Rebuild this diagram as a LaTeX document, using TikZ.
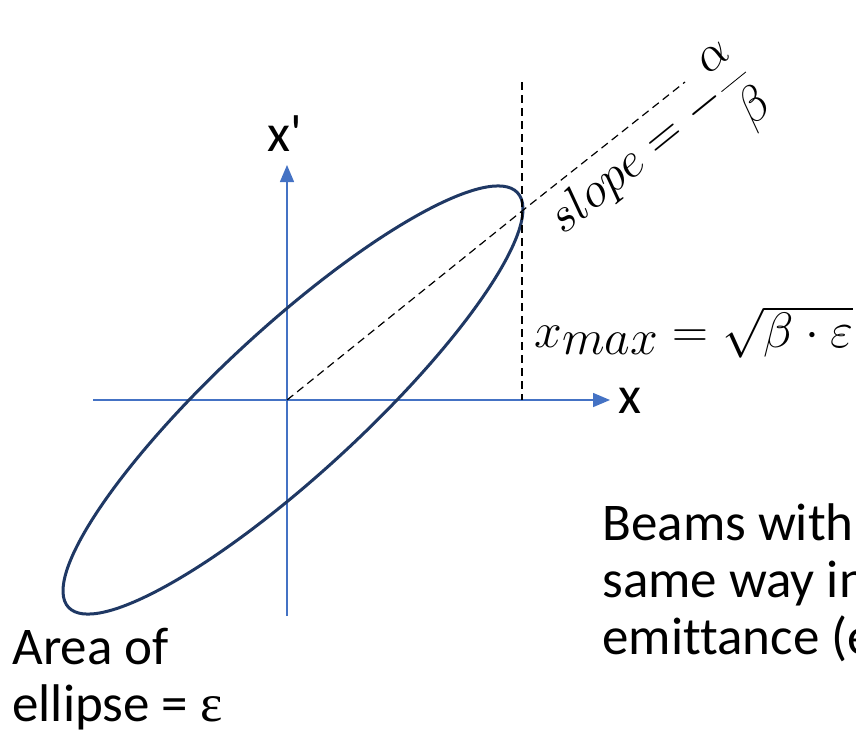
\documentclass[tikz,border=0pt]{standalone}
\usepackage{fontspec}
\setmainfont{Carlito}[Ligatures={TeX,NoCommon}]
\newfontfamily\greekfont{Liberation Serif}
\usetikzlibrary{arrows.meta}
\definecolor{axisblue}{HTML}{4472C4}
\definecolor{beamnavy}{HTML}{1F3864}

\begin{document}
\begin{tikzpicture}[x=0.5pt,y=-0.5pt,
    axis/.style={color=axisblue,line width=0.75pt,-{Triangle[length=8.5pt,width=7pt]}},
    guide/.style={dash pattern=on 4pt off 2.5pt,line width=0.6pt},
    beam/.style={color=beamnavy,line width=1.5pt},
    lbl/.style={inner sep=0pt,font=\fontsize{26.5}{28.5}\selectfont},
    formula/.style={inner sep=0pt,font=\fontsize{33}{36}\selectfont},
    ]
    \useasboundingbox (0,0) rectangle (856,735);
    \clip (0,0) rectangle (856,735);
    % axes
    \coordinate (o) at (287,400);
    \coordinate (xleft) at (93,400);
    \coordinate (xright) at (610,400);
    \coordinate (ybottom) at (287,616);
    \coordinate (ytop) at (287,165);
    \draw [axis] (xleft)--(xright);
    \draw [axis] (ybottom)--(ytop);
    \node [lbl] (xlabel) at (630,401) {x};
    \node [lbl] (ylabel) at (285,134) {x\textquotesingle};
    % phase space ellipse
    \coordinate (centre) at (293,400);
    \draw [beam,rotate around={42.7:(centre)}] (centre) ellipse [x radius=305.6,y radius=72.8];
    % slope and x_max guides
    \coordinate (tangent) at (522,211);
    \coordinate (slopeend) at (685,82);
    \coordinate (vtop) at (522,82);
    \coordinate (vbottom) at (522,400);
    \draw [guide] (o)--(tangent)--(slopeend);
    \draw [guide] (vtop)--(vbottom);
    \node [formula,rotate=39,anchor=base west] (slope) at (563,236) {$\displaystyle slope = -\frac{\alpha}{\beta}$};
    \node [formula,anchor=base west] (xmax) at (534,347) {$x_{max} = \sqrt{\beta\cdot\varepsilon}$};
    % notes
    \node [lbl,anchor=north west,align=left] (area) at (12,628) {Area of\\ellipse = {\greekfont ε}};
    \node [lbl,anchor=north west,align=left] (beams) at (602,503) {Beams with\\same way in\\emittance (e};
\end{tikzpicture}
\end{document}
